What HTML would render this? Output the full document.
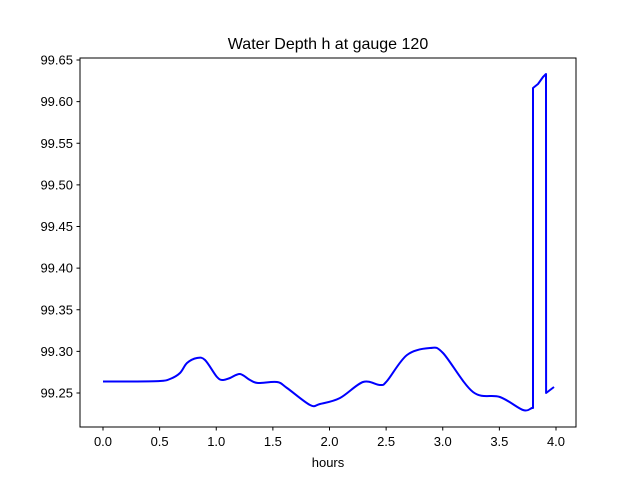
<!DOCTYPE html>
<html><head><meta charset="utf-8"><style>
body{margin:0;background:#fff;font-family:"Liberation Sans","DejaVu Sans",sans-serif;}
svg text{font-family:"Liberation Sans","DejaVu Sans",sans-serif;}
</style></head><body>
<svg id="chart" width="640" height="480">
<rect x="0" y="0" width="640" height="480" fill="#fff"/>
<text x="328" y="49" font-size="16" text-anchor="middle">Water Depth h at gauge 120</text>
<g id="xticks"></g><g id="yticks"></g>
<path id="line" fill="none" stroke="#0000ff" stroke-width="2" stroke-linejoin="round"/>
<rect x="80" y="58" width="496" height="369" fill="none" stroke="#000" stroke-width="1"/>
<text x="328" y="467" font-size="13" text-anchor="middle">hours</text>
</svg>
<script>
const hours=[0,0.238,0.503,0.592,0.680,0.742,0.830,0.901,1.007,1.060,1.121,1.210,1.298,1.369,1.536,1.625,1.828,1.916,2.093,2.296,2.446,2.508,2.684,2.887,3.002,3.267,3.505,3.709,3.788,3.797,3.797,3.841,3.885,3.912,3.913,3.982];
const depth=[99.2638,99.2638,99.2644,99.2668,99.274,99.286,99.292,99.2896,99.2692,99.2656,99.268,99.2728,99.2656,99.262,99.2632,99.256,99.2356,99.2368,99.244,99.2632,99.2596,99.2644,99.2956,99.304,99.298,99.2512,99.2452,99.2296,99.232,99.232,99.6164,99.6212,99.6296,99.6332,99.25,99.2572];
const xTickLabels=["0.0","0.5","1.0","1.5","2.0","2.5","3.0","3.5","4.0"];
const yTickLabels=["99.25","99.30","99.35","99.40","99.45","99.50","99.55","99.60","99.65"];
const NS="http://www.w3.org/2000/svg";
function xs(v){return 103+v*113.25;}
function ys(v){return 393-(v-99.25)*832.5;}
const xg=document.getElementById('xticks'),yg=document.getElementById('yticks');
xTickLabels.forEach(l=>{const v=parseFloat(l),x=xs(v);
 const t=document.createElementNS(NS,'line');t.setAttribute('x1',x);t.setAttribute('x2',x);t.setAttribute('y1',427);t.setAttribute('y2',430.5);t.setAttribute('stroke','#000');
 
 xg.appendChild(t);
 const tx=document.createElementNS(NS,'text');tx.setAttribute('x',x);tx.setAttribute('y',446);tx.setAttribute('font-size','13');tx.setAttribute('text-anchor','middle');tx.textContent=l;
 
 xg.appendChild(tx);});
yTickLabels.forEach(l=>{const v=parseFloat(l),y=ys(v);
 const t=document.createElementNS(NS,'line');t.setAttribute('x1',76.5);t.setAttribute('x2',80);t.setAttribute('y1',y);t.setAttribute('y2',y);t.setAttribute('stroke','#000');
 
 yg.appendChild(t);
 const tx=document.createElementNS(NS,'text');tx.setAttribute('x',73);tx.setAttribute('y',y+4.5);tx.setAttribute('font-size','13');tx.setAttribute('text-anchor','end');tx.textContent=l;
 
 yg.appendChild(tx);});
// smooth part until the jump, straight after
const P=hours.map((h,i)=>[xs(h),ys(depth[i])]);
let jump=P.length-1;
for(let i=1;i<P.length;i++){if(Math.abs(P[i][1]-P[i-1][1])>100){jump=i-1;break;}}
let d='M'+P[0][0].toFixed(1)+' '+P[0][1].toFixed(1)+' ';
for(let i=0;i<jump;i++){
 const p0=P[Math.max(i-1,0)],p1=P[i],p2=P[i+1],p3=P[Math.min(i+2,jump)];
 const c1=[p1[0]+(p2[0]-p0[0])/6,p1[1]+(p2[1]-p0[1])/6];
 const c2=[p2[0]-(p3[0]-p1[0])/6,p2[1]-(p3[1]-p1[1])/6];
 d+='C'+c1[0].toFixed(1)+' '+c1[1].toFixed(1)+' '+c2[0].toFixed(1)+' '+c2[1].toFixed(1)+' '+p2[0].toFixed(1)+' '+p2[1].toFixed(1)+' ';
}
for(let i=jump+1;i<P.length;i++){d+='L'+P[i][0].toFixed(1)+' '+P[i][1].toFixed(1)+' ';}
document.getElementById('line').setAttribute('d',d);
</script>
</body></html>
